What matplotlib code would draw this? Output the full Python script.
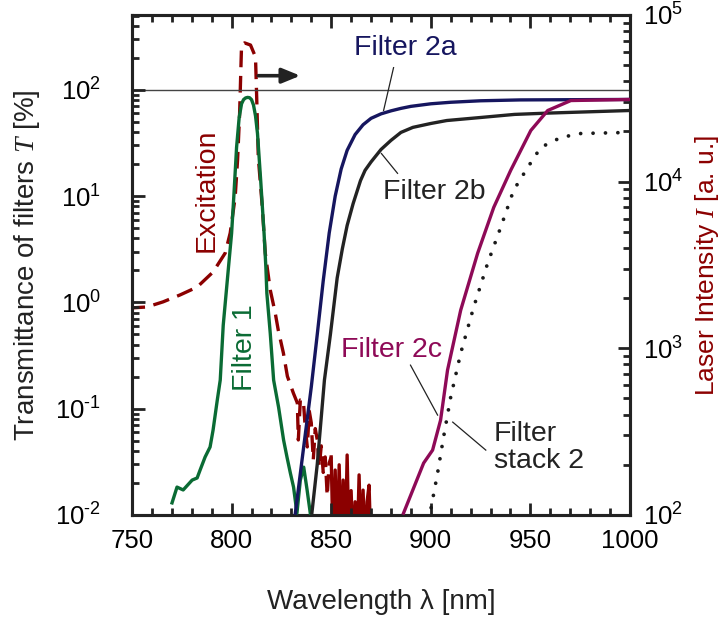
import numpy as np
import matplotlib
matplotlib.use("Agg")
import matplotlib.pyplot as plt
from matplotlib.ticker import LogLocator, FuncFormatter, MultipleLocator, NullFormatter

plt.rcParams['font.family'] = ['Liberation Sans', 'DejaVu Sans']
plt.rcParams['mathtext.fontset'] = 'custom'
plt.rcParams['mathtext.rm'] = 'Liberation Sans'
plt.rcParams['mathtext.sf'] = 'Liberation Sans'
plt.rcParams['mathtext.it'] = 'Liberation Serif:italic'
plt.rcParams['mathtext.bf'] = 'Liberation Sans:bold'

# ---------------- data ----------------
# Excitation laser spectrum (right axis, intensity a.u.)
exc_wl = [750.5, 757.5, 765.6, 774.1, 782.7, 790.7, 796.8, 799.3, 801.8, 803.0, 804.0,
          805.0, 806.5, 809.5, 812.0, 812.6, 813.4, 815.4, 816.9, 819.4, 821.9,
          823.4, 826.0, 828.0, 831.0, 833.0, 833.5, 834.5, 836.0, 837.0, 838.0, 839.0,
          840.0, 841.0, 842.0, 843.0, 844.0, 845.0, 846.0, 847.0, 848.0, 849.0, 850.0,
          851.0, 852.0, 853.0, 854.0, 855.0, 856.0, 857.0, 858.0, 859.0, 860.0, 861.0,
          862.0, 863.0, 864.0, 865.0, 866.0, 867.0, 868.0, 869.0, 870.0, 871.0]
exc_I = [1750, 1770, 1900, 2090, 2330, 2870, 3730, 4920, 8090, 13500, 25000,
         66000, 68000, 66000, 56000, 32000, 14000, 7050, 3730, 2240, 1630,
         1290, 937, 680, 539, 470, 282, 490, 490, 330, 256, 420,
         357, 214, 330, 282, 194, 260, 180, 223, 130, 205, 223,
         60, 186, 60, 200, 60, 162, 60, 229, 60, 140, 60,
         120, 60, 174, 60, 141, 60, 120, 151, 60, 50]

# Filter 1 transmittance (%)
f1_wl = [770.1, 772.6, 775.7, 780.2, 782.7, 784.2, 786.7, 789.2, 790.7, 792.8, 794.3,
         795.8, 798.4, 800.0, 801.2, 802.5, 803.8, 805.0, 806.0, 807.0, 808.0, 809.0,
         810.0, 811.0, 812.0, 813.0, 814.6, 816.3, 817.2, 817.7, 819.4, 821.1, 823.6,
         826.1, 827.8, 829.5, 831.1, 832.8, 834.5, 836.2, 837.9, 839.5]
f1_T = [0.0130, 0.0183, 0.0172, 0.0213, 0.0223, 0.0265, 0.0351, 0.0436, 0.0629, 0.120, 0.186,
        0.61, 2.1, 4.47, 10.6, 28.8, 55.0, 74.0, 81.0, 84.0, 85.0, 84.5,
        81.0, 72.0, 57.0, 38.9, 14.1, 4.47, 2.14, 1.22, 0.514, 0.186, 0.103,
        0.0507, 0.0351, 0.0248, 0.0183, 0.0104, 0.0213, 0.0282, 0.0172, 0.0104]

# Filter 2a
f2a_wl = [832.0, 836.0, 840.0, 843.0, 846.0, 849.0, 852.0, 855.0, 858.0, 862.0, 866.0,
          870.0, 875.0, 880.0, 885.0, 890.0, 900.0, 910.0, 925.0, 945.0, 1000.0]
f2a_T = [0.0104, 0.041, 0.16, 0.50, 1.6, 4.5, 10.0, 18.0, 27.0, 38.0, 47.0,
         54.0, 59.5, 63.5, 67.0, 70.0, 74.0, 76.5, 79.0, 80.5, 81.3]

# Filter 2b
f2b_wl = [840.3, 843.0, 846.6, 849.6, 853.0, 855.6, 858.0, 861.0, 864.7, 867.0, 870.0,
          875.0, 880.0, 885.0, 891.0, 900.0, 908.0, 925.0, 942.0, 959.0, 1000.0]
f2b_T = [0.0104, 0.03, 0.186, 0.5, 1.7, 3.2, 5.3, 8.5, 14.0, 17.5, 21.0,
         27.5, 33.5, 39.8, 44.4, 48.3, 51.5, 55.0, 58.8, 60.5, 64.0]

# Filter 2c
f2c_wl = [886.3, 896.4, 900.9, 904.9, 908.4, 915.0, 923.5, 931.6, 940.1, 950.2, 958.7,
          970.3, 1000.0]
f2c_T = [0.0104, 0.0308, 0.0408, 0.078, 0.231, 0.845, 2.90, 7.85, 17.5, 41.5, 64.0,
         79.4, 81.3]

# Filter stack 2
fs_wl = [899.0, 903.4, 906.4, 910.0, 915.0, 921.5, 928.5, 935.1, 941.6, 948.7, 955.2,
         965.3, 975.4, 1000.0]
fs_T = [0.009, 0.0248, 0.054, 0.129, 0.333, 0.90, 2.33, 5.10, 11.4, 18.7, 28.8,
        35.7, 38.9, 39.8]

ref_T = 100.0  # 100 % line

# ---------------- colours ----------------
c_exc = '#8b0000'
c_f1 = '#0a6b34'
c_2a = '#16165f'
c_2b = '#232323'
c_2c = '#8e0a57'
c_fs = '#1a1a1a'

fig = plt.figure(figsize=(7.26, 6.24), dpi=100)
ax = fig.add_axes([0.1818, 0.1747, 0.6860, 0.8013])
ax2 = ax.twinx()

FT = 18.5   # tick labels
FL = 20.0   # axis labels
FA = 20.5   # annotations

ax.set_xlim(750, 1000)
ax.set_yscale('log')
ax.set_ylim(1e-2, 10 ** 2.705)
ax2.set_yscale('log')
ax2.set_ylim(1e2, 1e5)

lw = 2.4
ax.axhline(ref_T, color='#444444', lw=1.0, zorder=1)
ax.plot(f1_wl, f1_T, color=c_f1, lw=lw, zorder=4)
ax.plot(f2a_wl, f2a_T, color=c_2a, lw=lw, zorder=4)
ax.plot(f2b_wl, f2b_T, color=c_2b, lw=lw, zorder=4)
ax.plot(f2c_wl, f2c_T, color=c_2c, lw=lw, zorder=4)
ax.plot(fs_wl, fs_T, color=c_fs, lw=2.7, linestyle=(0, (0.01, 3.3)),
        dash_capstyle='round', zorder=4)

# dashed excitation (dense noisy tail drawn solid, as in the original)
k = exc_wl.index(850.0)
on, off = 5.0, 2.6
pix = ax2.transData.transform(np.column_stack([exc_wl, exc_I]))
seg = np.hypot(np.diff(pix[:, 0]), np.diff(pix[:, 1]))
cum = np.concatenate([[0], np.cumsum(seg)]) * 72.0 / fig.dpi
i0, i1 = exc_wl.index(805.0), exc_wl.index(812.0)
mid = 0.5 * (cum[i0] + cum[i1])
period = (on + off) * lw
offset_pt = ((on + off / 2) * lw - mid + period / 2) % period
ax2.plot(exc_wl[:k + 1], exc_I[:k + 1], color=c_exc, lw=lw,
         linestyle=(offset_pt / lw, (on, off)), zorder=3)
ax2.plot(exc_wl[k:], exc_I[k:], color=c_exc, lw=lw, zorder=3)

ax.set_zorder(ax2.get_zorder() + 1)
ax.patch.set_visible(False)

# ticks
def fmt(v, pos):
    e = int(round(np.log10(v)))
    s = str(e).replace('-', '\u2010')
    return r'$\mathregular{10^{%s}}$' % s

for a in (ax, ax2):
    a.yaxis.set_major_locator(LogLocator(base=10, numticks=10))
    a.yaxis.set_minor_locator(LogLocator(base=10, subs=np.arange(2, 10), numticks=50))
    a.yaxis.set_major_formatter(FuncFormatter(fmt))
    a.yaxis.set_minor_formatter(NullFormatter())
ax.xaxis.set_major_locator(MultipleLocator(50))
ax.xaxis.set_minor_locator(MultipleLocator(10))

ax.tick_params(axis='x', which='both', direction='in', top=True, bottom=True,
               labelsize=FT, pad=10, width=2, color='#222222')
ax.tick_params(axis='x', which='major', length=9)
ax.tick_params(axis='x', which='minor', length=5)
ax.tick_params(axis='y', which='both', direction='in', left=True, right=False,
               labelsize=FT, pad=22, width=2, color='#222222')
ax.tick_params(axis='y', which='major', length=9)
ax.tick_params(axis='y', which='minor', length=5)
ax2.tick_params(axis='y', which='both', direction='in', right=True, left=False,
                labelsize=FT, pad=9, width=2, color='#222222')
ax2.tick_params(axis='y', which='major', length=9)
ax2.tick_params(axis='y', which='minor', length=5)

for a in (ax, ax2):
    for s in a.spines.values():
        s.set_linewidth(2.2)
        s.set_color('#222222')

ax.set_xlabel(r'Wavelength λ [nm]', fontsize=FL, labelpad=26, color='#222222')
ax.set_ylabel(r'Transmittance of filters $\mathit{T}$ [%]', fontsize=FL, labelpad=10,
              color='#222222')
ax2.set_ylabel(r'Laser Intensity $\mathit{I}$ [a. u.]', fontsize=19, labelpad=7,
               color=c_exc)

# annotations
ax.text(887.3, 250, 'Filter 2a', color=c_2a, fontsize=FA, ha='center', va='center')
ax.plot([881.3, 876.3], [162, 64], color='#222222', lw=0.9, zorder=5)
ax.text(901.9, 10.9, 'Filter 2b', color=c_2b, fontsize=FA, ha='center', va='center')
ax.plot([883.3, 875.2], [16.4, 25.2], color='#222222', lw=0.9, zorder=5)
ax.text(880.3, 0.356, 'Filter 2c', color=c_2c, fontsize=FA, ha='center', va='center')
ax.plot([889.8, 903.4], [0.257, 0.0871], color='#222222', lw=0.9, zorder=5)
ax.text(931.6, 0.0427, 'Filter\nstack 2', color=c_2b, fontsize=FA, ha='left',
        va='center', linespacing=1.05)
ax.plot([911.0, 927.6], [0.0748, 0.0408], color='#222222', lw=0.9, zorder=5)
ax.text(787.5, 11.4, 'Excitation', color=c_exc, fontsize=FA, rotation=90,
        ha='center', va='center')
ax.text(806.8, 0.379, 'Filter 1', color=c_f1, fontsize=FA, rotation=90,
        ha='center', va='center')
ax.annotate('', xy=(834.5, 136), xytext=(813.4, 136),
            arrowprops=dict(arrowstyle='-|>,head_length=1.1,head_width=0.45',
                            color='#222222', lw=2.6, shrinkA=0, shrinkB=0), zorder=6)

fig.savefig('out.png', dpi=100)
